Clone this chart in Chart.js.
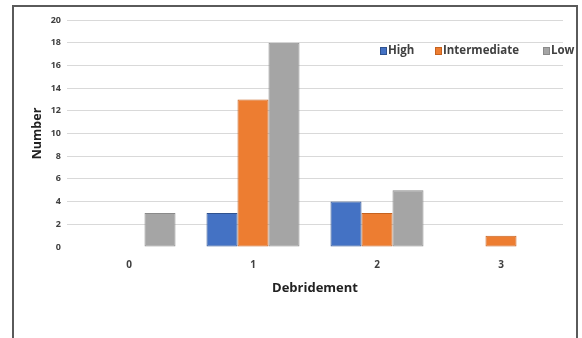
<!DOCTYPE html>
<html>
<head>
<meta charset="utf-8">
<script src="https://cdn.jsdelivr.net/npm/chart.js@4/dist/chart.umd.min.js"></script>
<style>
  html, body { margin: 0; padding: 0; background: #fff; }
  #wrap { position: relative; width: 582px; height: 338px; }
</style>
</head>
<body>
<div id="wrap"><canvas id="c" width="582" height="338"></canvas></div>
<script>
// Debridement score categories and patient counts per risk group
const categories = ['0', '1', '2', '3'];
const highCounts = [0, 3, 4, 0];
const intermediateCounts = [0, 13, 3, 1];
const lowCounts = [3, 18, 5, 0];
const yTicks = [0, 2, 4, 6, 8, 10, 12, 14, 16, 18, 20];

const seriesNames = ['High', 'Intermediate', 'Low'];
const fills = ['#4472C4', '#ED7D31', '#A5A5A5'];
const edges = ['#2F528F', '#C5621F', '#8A8A8A'];

const FONT = "'Open Sans', 'Liberation Sans', sans-serif";
const TEXT = '#404040';

// White page with the dark frame around the chart
const framePlugin = {
  id: 'frame',
  beforeDraw(chart) {
    const ctx = chart.ctx;
    ctx.save();
    ctx.fillStyle = '#fff';
    ctx.fillRect(0, 0, chart.width, chart.height);
    ctx.strokeStyle = '#5a5a5a';
    ctx.lineWidth = 2;
    ctx.beginPath();
    ctx.moveTo(13, 340);
    ctx.lineTo(13, 6);
    ctx.lineTo(577, 6);
    ctx.lineTo(577, 340);
    ctx.stroke();
    ctx.restore();
  }
};

// Legend drawn inside the plot, top right
const insideLegend = {
  id: 'insideLegend',
  afterDraw(chart) {
    const ctx = chart.ctx;
    ctx.save();
    ctx.font = "bold 11.5px " + FONT;
    ctx.textBaseline = 'middle';
    const y = 51;
    const xs = [380, 435, 543];
    chart.data.datasets.forEach((ds, i) => {
      const x = xs[i];
      ctx.fillStyle = ds.backgroundColor;
      ctx.fillRect(x, y - 4, 7, 8);
      ctx.strokeStyle = ds.borderColor;
      ctx.lineWidth = 1;
      ctx.strokeRect(x + 0.5, y - 3.5, 6, 7);
      ctx.fillStyle = TEXT;
      ctx.fillText(ds.label, x + 8, y);
    });
    ctx.restore();
  }
};

const seriesData = [highCounts, intermediateCounts, lowCounts];

new Chart(document.getElementById('c'), {
  type: 'bar',
  data: {
    labels: categories,
    datasets: seriesData.map((d, i) => ({
      label: seriesNames[i],
      data: d,
      backgroundColor: fills[i],
      borderColor: edges[i],
      borderWidth: 1,
      borderSkipped: false,
      categoryPercentage: 0.75,
      barPercentage: 1.0
    }))
  },
  options: {
    responsive: false,
    animation: false,
    devicePixelRatio: 1,
    layout: { padding: { left: 30, right: 19, top: 20, bottom: 42 } },
    plugins: {
      legend: { display: false },
      tooltip: { enabled: false }
    },
    scales: {
      x: {
        grid: { display: false, drawTicks: false },
        border: { display: false },
        ticks: { color: TEXT, font: { family: FONT, size: 10, weight: 'bold' }, padding: 12 },
        title: {
          display: true, text: 'Debridement', color: '#222',
          font: { family: FONT, size: 13, weight: 'bold' }, padding: 0
        },
        afterFit(s) { s.height = 49; }
      },
      y: {
        min: 0, max: 20,
        afterBuildTicks(s) { s.ticks = yTicks.map(v => ({ value: v })); },
        grid: {
          drawTicks: false,
          color: c => (c.tick && c.tick.value === 0) ? 'rgba(0,0,0,0)' : '#d9d9d9',
          lineWidth: 1
        },
        border: { display: false },
        ticks: { color: TEXT, font: { family: FONT, size: 9, weight: 'bold' }, padding: 6 },
        title: {
          display: true, text: 'Number', color: '#222',
          font: { family: FONT, size: 12.5, weight: 'bold' }, padding: 0
        },
        afterFit(s) { s.width = 37; }
      }
    }
  },
  plugins: [framePlugin, insideLegend]
});
</script>
</body>
</html>
